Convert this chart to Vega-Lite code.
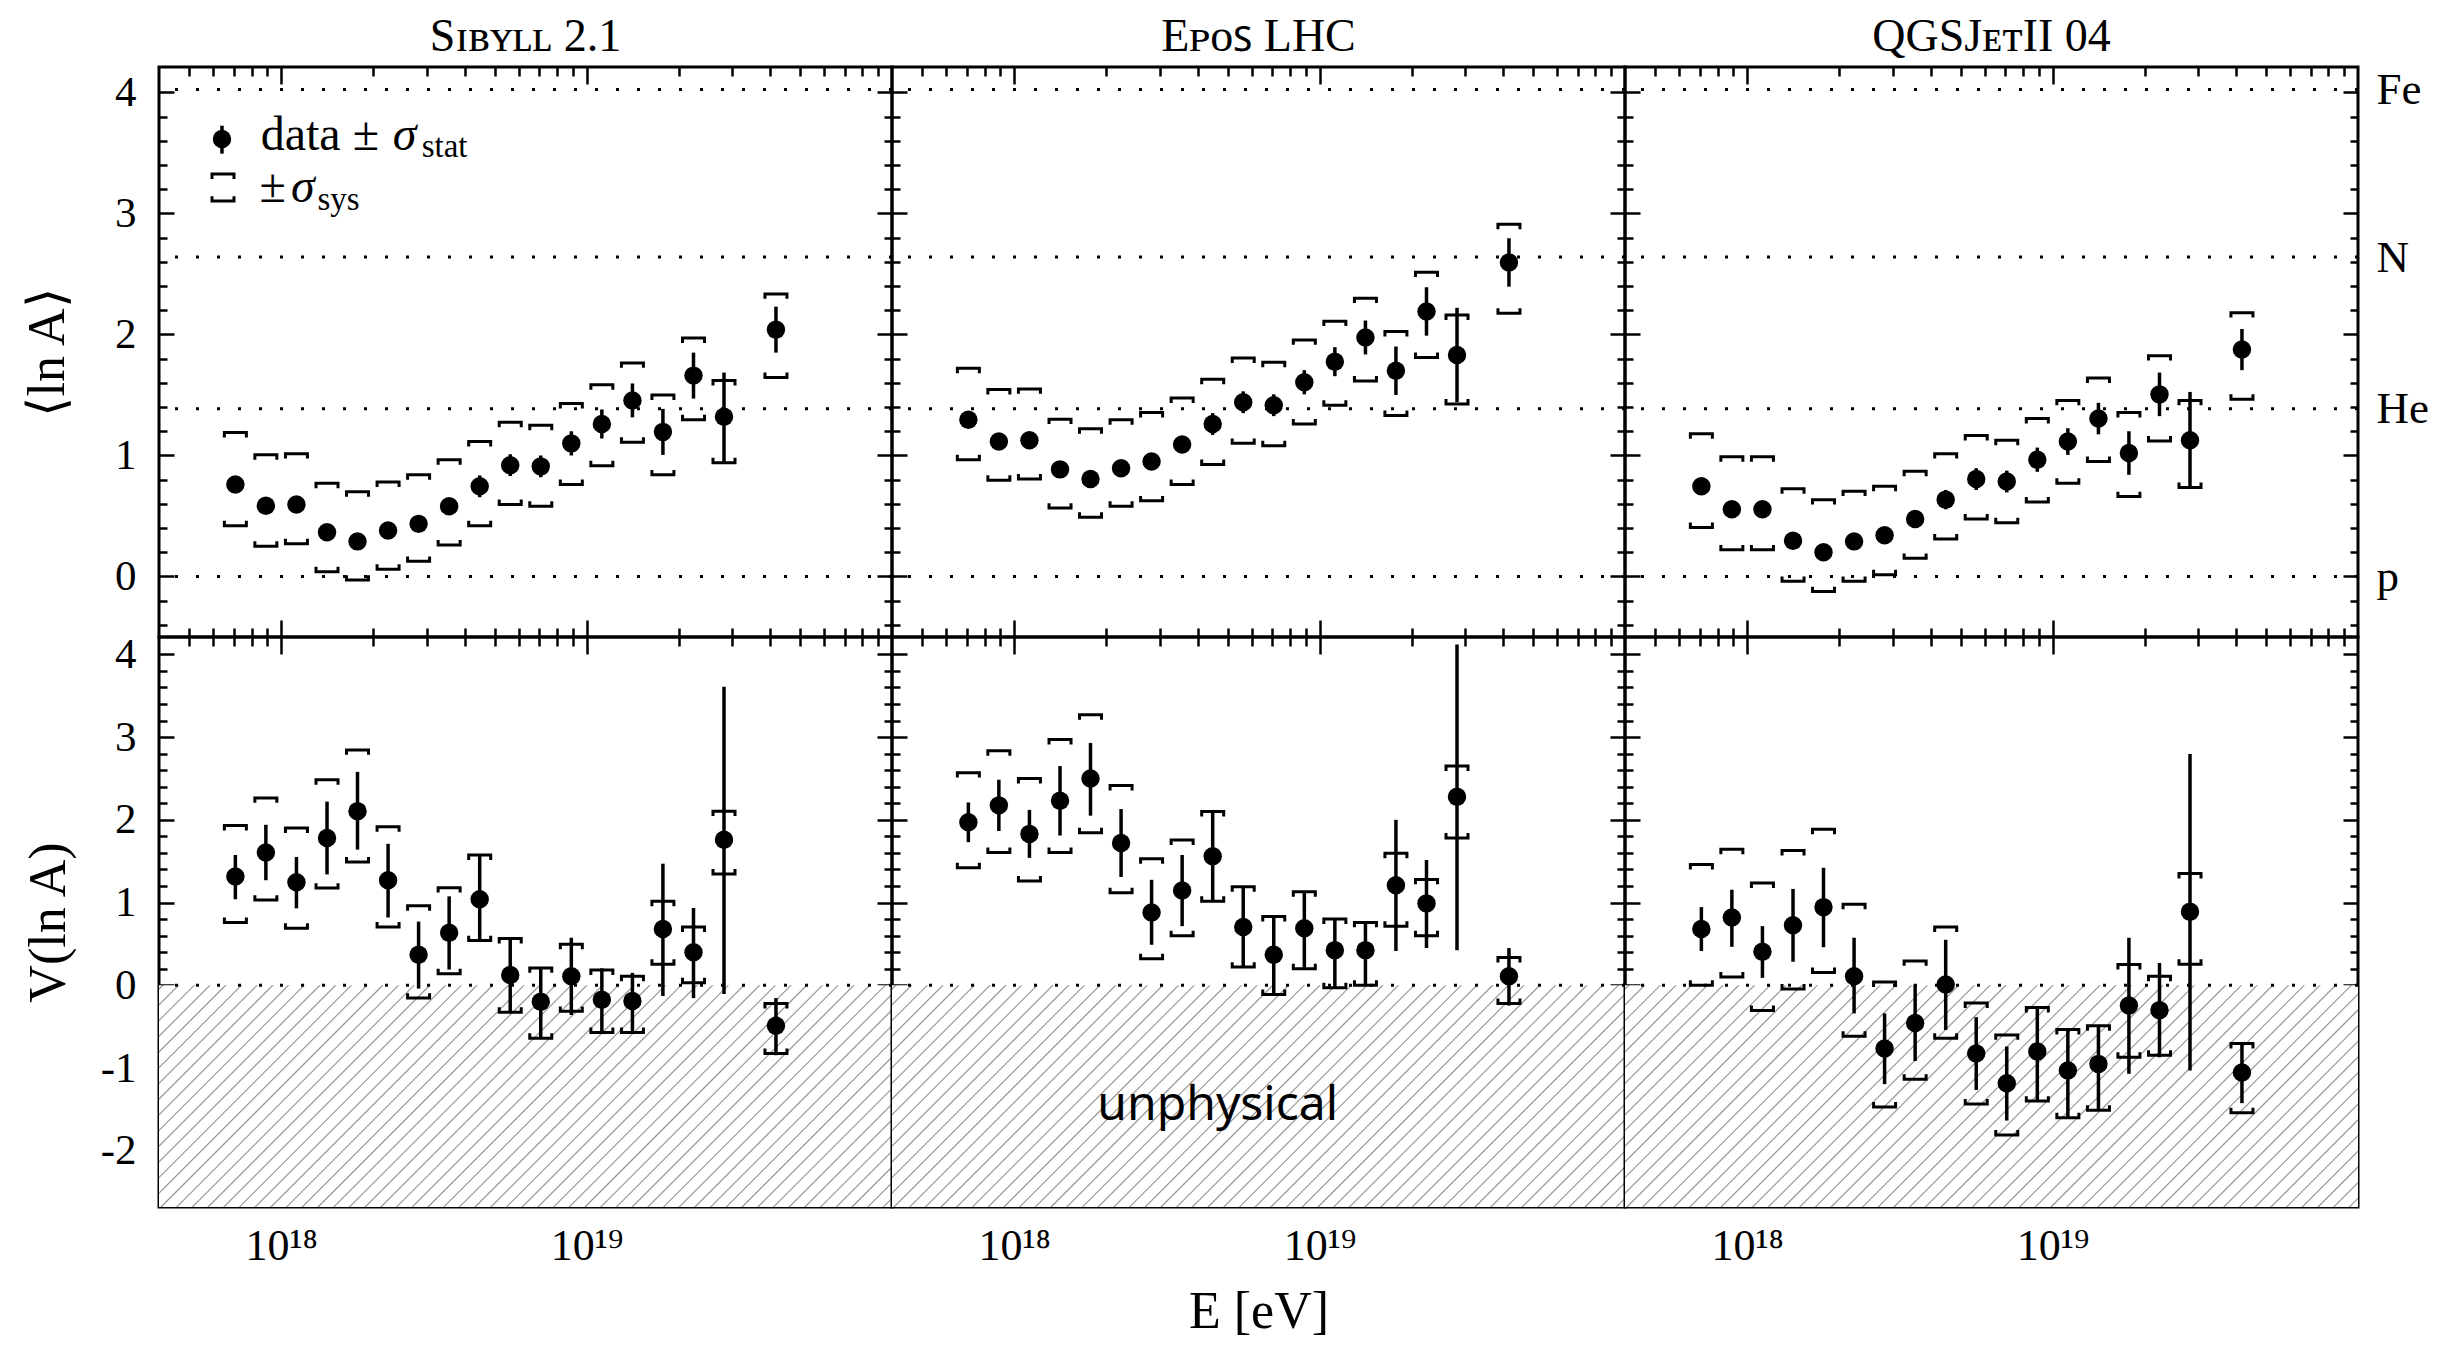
{
  "$schema": "https://vega.github.io/schema/vega-lite/v6.json",
  "background": "white",
  "padding": {"left": 20, "top": 12, "right": 10, "bottom": 4},
  "config": {
    "view": {"stroke": "black", "strokeWidth": 3},
    "font": "Liberation Serif",
    "axis": {
      "grid": false, "domain": false, "tickColor": "black", "tickWidth": 2.5,
      "labelColor": "black", "labelFont": "Liberation Serif", "labelFontSize": 43,
      "titleColor": "black", "titleFont": "Liberation Serif", "titleFontSize": 52, "titleFontWeight": "normal",
      "labelOverlap": false, "labelFlush": false, "labelBound": false, "minExtent": 0, "maxExtent": 400
    }
  },
  "datasets": {
    "lnA": [
      {"model":"Sibyll","E":7.08e17,"mean":0.76,"statLo":0.73,"statHi":0.79,"sysLo":0.42,"sysHi":1.19},
      {"model":"Sibyll","E":8.91e17,"mean":0.585,"statLo":0.555,"statHi":0.615,"sysLo":0.25,"sysHi":1.005},
      {"model":"Sibyll","E":1.122e18,"mean":0.595,"statLo":0.565,"statHi":0.625,"sysLo":0.27,"sysHi":1.015},
      {"model":"Sibyll","E":1.413e18,"mean":0.365,"statLo":0.335,"statHi":0.395,"sysLo":0.04,"sysHi":0.77},
      {"model":"Sibyll","E":1.778e18,"mean":0.29,"statLo":0.25,"statHi":0.33,"sysLo":-0.03,"sysHi":0.7},
      {"model":"Sibyll","E":2.239e18,"mean":0.38,"statLo":0.34,"statHi":0.42,"sysLo":0.06,"sysHi":0.78},
      {"model":"Sibyll","E":2.818e18,"mean":0.435,"statLo":0.385,"statHi":0.485,"sysLo":0.125,"sysHi":0.84},
      {"model":"Sibyll","E":3.548e18,"mean":0.58,"statLo":0.52,"statHi":0.64,"sysLo":0.26,"sysHi":0.965},
      {"model":"Sibyll","E":4.467e18,"mean":0.745,"statLo":0.655,"statHi":0.835,"sysLo":0.42,"sysHi":1.115},
      {"model":"Sibyll","E":5.623e18,"mean":0.92,"statLo":0.83,"statHi":1.01,"sysLo":0.595,"sysHi":1.275},
      {"model":"Sibyll","E":7.079e18,"mean":0.91,"statLo":0.82,"statHi":1.0,"sysLo":0.58,"sysHi":1.25},
      {"model":"Sibyll","E":8.913e18,"mean":1.1,"statLo":1.0,"statHi":1.2,"sysLo":0.76,"sysHi":1.43},
      {"model":"Sibyll","E":1.122e19,"mean":1.26,"statLo":1.14,"statHi":1.38,"sysLo":0.915,"sysHi":1.585},
      {"model":"Sibyll","E":1.413e19,"mean":1.455,"statLo":1.315,"statHi":1.595,"sysLo":1.11,"sysHi":1.765},
      {"model":"Sibyll","E":1.778e19,"mean":1.195,"statLo":1.005,"statHi":1.385,"sysLo":0.84,"sysHi":1.5},
      {"model":"Sibyll","E":2.239e19,"mean":1.66,"statLo":1.47,"statHi":1.85,"sysLo":1.295,"sysHi":1.97},
      {"model":"Sibyll","E":2.818e19,"mean":1.32,"statLo":0.935,"statHi":1.685,"sysLo":0.94,"sysHi":1.62},
      {"model":"Sibyll","E":4.169e19,"mean":2.04,"statLo":1.85,"statHi":2.23,"sysLo":1.645,"sysHi":2.335},
      {"model":"EPOS","E":7.08e17,"mean":1.295,"statLo":1.265,"statHi":1.325,"sysLo":0.965,"sysHi":1.72},
      {"model":"EPOS","E":8.91e17,"mean":1.115,"statLo":1.085,"statHi":1.145,"sysLo":0.795,"sysHi":1.545},
      {"model":"EPOS","E":1.122e18,"mean":1.125,"statLo":1.095,"statHi":1.155,"sysLo":0.805,"sysHi":1.55},
      {"model":"EPOS","E":1.413e18,"mean":0.885,"statLo":0.855,"statHi":0.915,"sysLo":0.565,"sysHi":1.3},
      {"model":"EPOS","E":1.778e18,"mean":0.805,"statLo":0.765,"statHi":0.845,"sysLo":0.49,"sysHi":1.22},
      {"model":"EPOS","E":2.239e18,"mean":0.895,"statLo":0.855,"statHi":0.935,"sysLo":0.58,"sysHi":1.295},
      {"model":"EPOS","E":2.818e18,"mean":0.95,"statLo":0.9,"statHi":1.0,"sysLo":0.625,"sysHi":1.355},
      {"model":"EPOS","E":3.548e18,"mean":1.09,"statLo":1.03,"statHi":1.15,"sysLo":0.76,"sysHi":1.475},
      {"model":"EPOS","E":4.467e18,"mean":1.26,"statLo":1.17,"statHi":1.35,"sysLo":0.925,"sysHi":1.63},
      {"model":"EPOS","E":5.623e18,"mean":1.44,"statLo":1.35,"statHi":1.53,"sysLo":1.1,"sysHi":1.805},
      {"model":"EPOS","E":7.079e18,"mean":1.415,"statLo":1.325,"statHi":1.505,"sysLo":1.08,"sysHi":1.77},
      {"model":"EPOS","E":8.913e18,"mean":1.605,"statLo":1.505,"statHi":1.705,"sysLo":1.26,"sysHi":1.955},
      {"model":"EPOS","E":1.122e19,"mean":1.775,"statLo":1.655,"statHi":1.895,"sysLo":1.415,"sysHi":2.11},
      {"model":"EPOS","E":1.413e19,"mean":1.975,"statLo":1.835,"statHi":2.115,"sysLo":1.615,"sysHi":2.3},
      {"model":"EPOS","E":1.778e19,"mean":1.7,"statLo":1.5,"statHi":1.9,"sysLo":1.33,"sysHi":2.025},
      {"model":"EPOS","E":2.239e19,"mean":2.19,"statLo":1.99,"statHi":2.39,"sysLo":1.81,"sysHi":2.515},
      {"model":"EPOS","E":2.818e19,"mean":1.83,"statLo":1.44,"statHi":2.22,"sysLo":1.425,"sysHi":2.16},
      {"model":"EPOS","E":4.169e19,"mean":2.595,"statLo":2.395,"statHi":2.795,"sysLo":2.175,"sysHi":2.91},
      {"model":"QGSJet","E":7.08e17,"mean":0.745,"statLo":0.715,"statHi":0.775,"sysLo":0.405,"sysHi":1.18},
      {"model":"QGSJet","E":8.91e17,"mean":0.555,"statLo":0.525,"statHi":0.585,"sysLo":0.22,"sysHi":0.99},
      {"model":"QGSJet","E":1.122e18,"mean":0.555,"statLo":0.525,"statHi":0.585,"sysLo":0.22,"sysHi":0.99},
      {"model":"QGSJet","E":1.413e18,"mean":0.295,"statLo":0.265,"statHi":0.325,"sysLo":-0.04,"sysHi":0.725},
      {"model":"QGSJet","E":1.778e18,"mean":0.2,"statLo":0.16,"statHi":0.24,"sysLo":-0.125,"sysHi":0.635},
      {"model":"QGSJet","E":2.239e18,"mean":0.29,"statLo":0.25,"statHi":0.33,"sysLo":-0.04,"sysHi":0.705},
      {"model":"QGSJet","E":2.818e18,"mean":0.34,"statLo":0.29,"statHi":0.39,"sysLo":0.015,"sysHi":0.745},
      {"model":"QGSJet","E":3.548e18,"mean":0.475,"statLo":0.415,"statHi":0.535,"sysLo":0.15,"sysHi":0.87},
      {"model":"QGSJet","E":4.467e18,"mean":0.635,"statLo":0.555,"statHi":0.715,"sysLo":0.31,"sysHi":1.015},
      {"model":"QGSJet","E":5.623e18,"mean":0.805,"statLo":0.715,"statHi":0.895,"sysLo":0.475,"sysHi":1.165},
      {"model":"QGSJet","E":7.079e18,"mean":0.785,"statLo":0.695,"statHi":0.875,"sysLo":0.445,"sysHi":1.125},
      {"model":"QGSJet","E":8.913e18,"mean":0.965,"statLo":0.865,"statHi":1.065,"sysLo":0.615,"sysHi":1.305},
      {"model":"QGSJet","E":1.122e19,"mean":1.115,"statLo":1.005,"statHi":1.225,"sysLo":0.77,"sysHi":1.455},
      {"model":"QGSJet","E":1.413e19,"mean":1.305,"statLo":1.175,"statHi":1.435,"sysLo":0.95,"sysHi":1.64},
      {"model":"QGSJet","E":1.778e19,"mean":1.02,"statLo":0.84,"statHi":1.2,"sysLo":0.66,"sysHi":1.355},
      {"model":"QGSJet","E":2.239e19,"mean":1.505,"statLo":1.325,"statHi":1.685,"sysLo":1.12,"sysHi":1.825},
      {"model":"QGSJet","E":2.818e19,"mean":1.125,"statLo":0.735,"statHi":1.525,"sysLo":0.735,"sysHi":1.455},
      {"model":"QGSJet","E":4.169e19,"mean":1.875,"statLo":1.705,"statHi":2.045,"sysLo":1.465,"sysHi":2.18}
    ],
    "VlnA": [
      {"model":"Sibyll","E":7.08e17,"mean":1.315,"statLo":1.04,"statHi":1.575,"sysLo":0.76,"sysHi":1.93},
      {"model":"Sibyll","E":8.91e17,"mean":1.605,"statLo":1.27,"statHi":1.94,"sysLo":1.03,"sysHi":2.265},
      {"model":"Sibyll","E":1.122e18,"mean":1.245,"statLo":0.93,"statHi":1.55,"sysLo":0.69,"sysHi":1.9},
      {"model":"Sibyll","E":1.413e18,"mean":1.78,"statLo":1.34,"statHi":2.22,"sysLo":1.175,"sysHi":2.485},
      {"model":"Sibyll","E":1.778e18,"mean":2.105,"statLo":1.64,"statHi":2.58,"sysLo":1.49,"sysHi":2.845},
      {"model":"Sibyll","E":2.239e18,"mean":1.27,"statLo":0.82,"statHi":1.71,"sysLo":0.705,"sysHi":1.915},
      {"model":"Sibyll","E":2.818e18,"mean":0.37,"statLo":-0.04,"statHi":0.77,"sysLo":-0.155,"sysHi":0.96},
      {"model":"Sibyll","E":3.548e18,"mean":0.635,"statLo":0.19,"statHi":1.075,"sysLo":0.14,"sysHi":1.18},
      {"model":"Sibyll","E":4.467e18,"mean":1.04,"statLo":0.54,"statHi":1.575,"sysLo":0.54,"sysHi":1.575},
      {"model":"Sibyll","E":5.623e18,"mean":0.125,"statLo":-0.325,"statHi":0.565,"sysLo":-0.325,"sysHi":0.565},
      {"model":"Sibyll","E":7.079e18,"mean":-0.2,"statLo":-0.64,"statHi":0.21,"sysLo":-0.64,"sysHi":0.21},
      {"model":"Sibyll","E":8.913e18,"mean":0.11,"statLo":-0.36,"statHi":0.575,"sysLo":-0.315,"sysHi":0.495},
      {"model":"Sibyll","E":1.122e19,"mean":-0.175,"statLo":-0.57,"statHi":0.205,"sysLo":-0.57,"sysHi":0.185},
      {"model":"Sibyll","E":1.413e19,"mean":-0.19,"statLo":-0.57,"statHi":0.15,"sysLo":-0.57,"sysHi":0.11},
      {"model":"Sibyll","E":1.778e19,"mean":0.68,"statLo":-0.13,"statHi":1.47,"sysLo":0.255,"sysHi":1.015},
      {"model":"Sibyll","E":2.239e19,"mean":0.4,"statLo":-0.155,"statHi":0.935,"sysLo":0.03,"sysHi":0.705},
      {"model":"Sibyll","E":2.818e19,"mean":1.76,"statLo":-0.105,"statHi":3.61,"sysLo":1.345,"sysHi":2.105},
      {"model":"Sibyll","E":4.169e19,"mean":-0.49,"statLo":-0.845,"statHi":-0.155,"sysLo":-0.825,"sysHi":-0.22},
      {"model":"EPOS","E":7.08e17,"mean":1.97,"statLo":1.73,"statHi":2.21,"sysLo":1.42,"sysHi":2.57},
      {"model":"EPOS","E":8.91e17,"mean":2.175,"statLo":1.865,"statHi":2.485,"sysLo":1.605,"sysHi":2.835},
      {"model":"EPOS","E":1.122e18,"mean":1.83,"statLo":1.54,"statHi":2.12,"sysLo":1.26,"sysHi":2.5},
      {"model":"EPOS","E":1.413e18,"mean":2.23,"statLo":1.81,"statHi":2.65,"sysLo":1.605,"sysHi":2.97},
      {"model":"EPOS","E":1.778e18,"mean":2.5,"statLo":2.05,"statHi":2.93,"sysLo":1.845,"sysHi":3.27},
      {"model":"EPOS","E":2.239e18,"mean":1.72,"statLo":1.31,"statHi":2.13,"sysLo":1.12,"sysHi":2.415},
      {"model":"EPOS","E":2.818e18,"mean":0.88,"statLo":0.49,"statHi":1.275,"sysLo":0.32,"sysHi":1.53},
      {"model":"EPOS","E":3.548e18,"mean":1.145,"statLo":0.715,"statHi":1.575,"sysLo":0.6,"sysHi":1.755},
      {"model":"EPOS","E":4.467e18,"mean":1.56,"statLo":1.015,"statHi":2.1,"sysLo":1.015,"sysHi":2.1},
      {"model":"EPOS","E":5.623e18,"mean":0.705,"statLo":0.22,"statHi":1.19,"sysLo":0.22,"sysHi":1.19},
      {"model":"EPOS","E":7.079e18,"mean":0.37,"statLo":-0.12,"statHi":0.83,"sysLo":-0.11,"sysHi":0.83},
      {"model":"EPOS","E":8.913e18,"mean":0.69,"statLo":0.2,"statHi":1.13,"sysLo":0.2,"sysHi":1.13},
      {"model":"EPOS","E":1.122e19,"mean":0.425,"statLo":-0.03,"statHi":0.8,"sysLo":-0.03,"sysHi":0.8},
      {"model":"EPOS","E":1.413e19,"mean":0.425,"statLo":0.0,"statHi":0.76,"sysLo":0.0,"sysHi":0.76},
      {"model":"EPOS","E":1.778e19,"mean":1.21,"statLo":0.415,"statHi":2.0,"sysLo":0.715,"sysHi":1.595},
      {"model":"EPOS","E":2.239e19,"mean":0.99,"statLo":0.45,"statHi":1.515,"sysLo":0.6,"sysHi":1.28},
      {"model":"EPOS","E":2.818e19,"mean":2.28,"statLo":0.425,"statHi":4.12,"sysLo":1.78,"sysHi":2.65},
      {"model":"EPOS","E":4.169e19,"mean":0.11,"statLo":-0.245,"statHi":0.45,"sysLo":-0.22,"sysHi":0.335},
      {"model":"QGSJet","E":7.08e17,"mean":0.68,"statLo":0.415,"statHi":0.945,"sysLo":0.0,"sysHi":1.46},
      {"model":"QGSJet","E":8.91e17,"mean":0.82,"statLo":0.465,"statHi":1.155,"sysLo":0.1,"sysHi":1.645},
      {"model":"QGSJet","E":1.122e18,"mean":0.405,"statLo":0.09,"statHi":0.715,"sysLo":-0.305,"sysHi":1.235},
      {"model":"QGSJet","E":1.413e18,"mean":0.725,"statLo":0.285,"statHi":1.165,"sysLo":-0.045,"sysHi":1.63},
      {"model":"QGSJet","E":1.778e18,"mean":0.945,"statLo":0.46,"statHi":1.42,"sysLo":0.155,"sysHi":1.885},
      {"model":"QGSJet","E":2.239e18,"mean":0.11,"statLo":-0.34,"statHi":0.575,"sysLo":-0.615,"sysHi":0.98},
      {"model":"QGSJet","E":2.818e18,"mean":-0.765,"statLo":-1.195,"statHi":-0.34,"sysLo":-1.47,"sysHi":0.04},
      {"model":"QGSJet","E":3.548e18,"mean":-0.455,"statLo":-0.915,"statHi":0.01,"sysLo":-1.135,"sysHi":0.295},
      {"model":"QGSJet","E":4.467e18,"mean":0.01,"statLo":-0.54,"statHi":0.55,"sysLo":-0.64,"sysHi":0.705},
      {"model":"QGSJet","E":5.623e18,"mean":-0.825,"statLo":-1.265,"statHi":-0.385,"sysLo":-1.435,"sysHi":-0.215},
      {"model":"QGSJet","E":7.079e18,"mean":-1.185,"statLo":-1.635,"statHi":-0.74,"sysLo":-1.81,"sysHi":-0.6},
      {"model":"QGSJet","E":8.913e18,"mean":-0.8,"statLo":-1.4,"statHi":-0.27,"sysLo":-1.4,"sysHi":-0.27},
      {"model":"QGSJet","E":1.122e19,"mean":-1.03,"statLo":-1.6,"statHi":-0.54,"sysLo":-1.6,"sysHi":-0.535},
      {"model":"QGSJet","E":1.413e19,"mean":-0.95,"statLo":-1.5,"statHi":-0.49,"sysLo":-1.51,"sysHi":-0.49},
      {"model":"QGSJet","E":1.778e19,"mean":-0.245,"statLo":-1.07,"statHi":0.575,"sysLo":-0.87,"sysHi":0.25},
      {"model":"QGSJet","E":2.239e19,"mean":-0.3,"statLo":-0.87,"statHi":0.27,"sysLo":-0.845,"sysHi":0.11},
      {"model":"QGSJet","E":2.818e19,"mean":0.89,"statLo":-1.03,"statHi":2.795,"sysLo":0.255,"sysHi":1.35},
      {"model":"QGSJet","E":4.169e19,"mean":-1.055,"statLo":-1.425,"statHi":-0.69,"sysLo":-1.54,"sysHi":-0.705}
    ],
    "elements": [
      {"element":"p","lnA":0},
      {"element":"He","lnA":1.386},
      {"element":"N","lnA":2.639},
      {"element":"Fe","lnA":4.025}
    ],
    "zeroLine": [{"V":0}],
    "blank": [{}]
  },
  "columns": 3,
  "spacing": 0,
  "bounds": "flush",
  "concat": [
    {
      "width": 733, "height": 570,
      "title": {"text": "S\u026a\u0299\u028f\u029f\u029f 2.1", "font": "Liberation Serif", "fontSize": 46, "fontWeight": "normal", "color": "black", "frame": "group", "anchor": "middle", "baseline": "alphabetic", "offset": -31},
      "resolve": {"axis": {"x": "independent", "y": "independent"}},
      "layer": [
        {"data": {"name": "elements"}, "mark": {"type": "rule", "color": "black", "strokeWidth": 3, "strokeDash": [3, 18]},
         "encoding": {"y": {"field": "lnA", "type": "quantitative", "scale": {"domain": [-0.5, 4.21], "nice": false, "zero": false}, "axis": null}}},
        {"data": {"name": "lnA"}, "transform": [{"filter": "datum.model === 'Sibyll'"}],
         "mark": {"type": "point", "shape": "M-1,0.45L-1,0L1,0L1,0.45", "size": 484, "filled": false, "color": "black", "strokeWidth": 3, "opacity": 1},
         "encoding": {
           "x": {"field": "E", "type": "quantitative", "scale": {"type": "log", "domain": [3.981e17, 1e20], "nice": false}, "axis": {"orient": "bottom", "values": [1e18, 1e19], "tickSize": -17, "labels": false, "title": null}},
           "y": {"field": "sysHi", "type": "quantitative", "scale": {"domain": [-0.5, 4.21], "nice": false, "zero": false}, "axis": {"orient": "left", "values": [0, 1, 2, 3, 4], "tickSize": -15, "labelPadding": 38, "title": "\u27e8ln A\u27e9", "titlePadding": 40}}}},
        {"data": {"name": "lnA"}, "transform": [{"filter": "datum.model === 'Sibyll'"}],
         "mark": {"type": "point", "shape": "M-1,-0.45L-1,0L1,0L1,-0.45", "size": 484, "filled": false, "color": "black", "strokeWidth": 3, "opacity": 1},
         "encoding": {
           "x": {"field": "E", "type": "quantitative", "axis": {"orient": "bottom", "values": [5e17,6e17,7e17,8e17,9e17,2e18,3e18,4e18,5e18,6e18,7e18,8e18,9e18,2e19,3e19,4e19,5e19,6e19,7e19,8e19,9e19], "tickSize": -9, "labels": false, "title": null}},
           "y": {"field": "sysLo", "type": "quantitative", "axis": {"orient": "left", "values": [-0.4,-0.2,0.2,0.4,0.6,0.8,1.2,1.4,1.6,1.8,2.2,2.4,2.6,2.8,3.2,3.4,3.6,3.8], "tickSize": -8, "labels": false, "title": null}}}},
        {"data": {"name": "lnA"}, "transform": [{"filter": "datum.model === 'Sibyll'"}],
         "mark": {"type": "rule", "color": "black", "strokeWidth": 3.5},
         "encoding": {
           "x": {"field": "E", "type": "quantitative", "axis": {"orient": "top", "values": [1e18, 1e19], "tickSize": -17, "labels": false, "title": null}},
           "y": {"field": "statLo", "type": "quantitative", "axis": {"orient": "right", "values": [0, 1, 2, 3, 4], "tickSize": -15, "labels": false, "title": null}},
           "y2": {"field": "statHi"}}},
        {"data": {"name": "lnA"}, "transform": [{"filter": "datum.model === 'Sibyll'"}],
         "mark": {"type": "point", "shape": "circle", "size": 340, "filled": true, "color": "black", "opacity": 1},
         "encoding": {
           "x": {"field": "E", "type": "quantitative", "axis": {"orient": "top", "values": [5e17,6e17,7e17,8e17,9e17,2e18,3e18,4e18,5e18,6e18,7e18,8e18,9e18,2e19,3e19,4e19,5e19,6e19,7e19,8e19,9e19], "tickSize": -9, "labels": false, "title": null}},
           "y": {"field": "mean", "type": "quantitative", "axis": {"orient": "right", "values": [-0.4,-0.2,0.2,0.4,0.6,0.8,1.2,1.4,1.6,1.8,2.2,2.4,2.6,2.8,3.2,3.4,3.6,3.8], "tickSize": -8, "labels": false, "title": null}}}},
        {"data": {"name": "blank"}, "mark": {"type": "rule", "color": "black", "strokeWidth": 3.5},
         "encoding": {"x": {"datum": 6.4e17, "type": "quantitative", "axis": null}, "y": {"datum": 3.494, "type": "quantitative", "axis": null}, "y2": {"datum": 3.725}}},
        {"data": {"name": "blank"}, "mark": {"type": "point", "shape": "circle", "size": 340, "filled": true, "color": "black", "opacity": 1},
         "encoding": {"x": {"datum": 6.4e17, "type": "quantitative", "axis": null}, "y": {"datum": 3.615, "type": "quantitative", "axis": null}}},
        {"data": {"name": "blank"}, "mark": {"type": "point", "shape": "M-1,0.45L-1,0L1,0L1,0.45", "size": 484, "filled": false, "color": "black", "strokeWidth": 3, "opacity": 1},
         "encoding": {"x": {"datum": 6.45e17, "type": "quantitative", "axis": null}, "y": {"datum": 3.326, "type": "quantitative", "axis": null}}},
        {"data": {"name": "blank"}, "mark": {"type": "point", "shape": "M-1,-0.45L-1,0L1,0L1,-0.45", "size": 484, "filled": false, "color": "black", "strokeWidth": 3, "opacity": 1},
         "encoding": {"x": {"datum": 6.45e17, "type": "quantitative", "axis": null}, "y": {"datum": 3.102, "type": "quantitative", "axis": null}}},
        {"data": {"name": "blank"}, "mark": {"type": "text", "text": "data \u00b1", "align": "left", "baseline": "alphabetic", "font": "Liberation Serif", "fontSize": 48, "color": "black"},
         "encoding": {"x": {"datum": 8.57e17, "type": "quantitative", "axis": null}, "y": {"datum": 3.527, "type": "quantitative", "axis": null}}},
        {"data": {"name": "blank"}, "mark": {"type": "text", "text": "\u03c3", "align": "left", "baseline": "alphabetic", "font": "Liberation Serif", "fontStyle": "italic", "fontSize": 48, "color": "black"},
         "encoding": {"x": {"datum": 2.32e18, "type": "quantitative", "axis": null}, "y": {"datum": 3.527, "type": "quantitative", "axis": null}}},
        {"data": {"name": "blank"}, "mark": {"type": "text", "text": "stat", "align": "left", "baseline": "alphabetic", "font": "Liberation Serif", "fontSize": 33, "color": "black"},
         "encoding": {"x": {"datum": 2.884e18, "type": "quantitative", "axis": null}, "y": {"datum": 3.463, "type": "quantitative", "axis": null}}},
        {"data": {"name": "blank"}, "mark": {"type": "text", "text": "\u00b1", "align": "left", "baseline": "alphabetic", "font": "Liberation Serif", "fontSize": 48, "color": "black"},
         "encoding": {"x": {"datum": 8.5e17, "type": "quantitative", "axis": null}, "y": {"datum": 3.093, "type": "quantitative", "axis": null}}},
        {"data": {"name": "blank"}, "mark": {"type": "text", "text": "\u03c3", "align": "left", "baseline": "alphabetic", "font": "Liberation Serif", "fontStyle": "italic", "fontSize": 48, "color": "black"},
         "encoding": {"x": {"datum": 1.076e18, "type": "quantitative", "axis": null}, "y": {"datum": 3.093, "type": "quantitative", "axis": null}}},
        {"data": {"name": "blank"}, "mark": {"type": "text", "text": "sys", "align": "left", "baseline": "alphabetic", "font": "Liberation Serif", "fontSize": 33, "color": "black"},
         "encoding": {"x": {"datum": 1.315e18, "type": "quantitative", "axis": null}, "y": {"datum": 3.03, "type": "quantitative", "axis": null}}}
      ]
    },
    {
      "width": 733, "height": 570,
      "title": {"text": "E\u1d18\u1d0f\ua731 LHC", "font": "Liberation Serif", "fontSize": 46, "fontWeight": "normal", "color": "black", "frame": "group", "anchor": "middle", "baseline": "alphabetic", "offset": -31},
      "resolve": {"axis": {"x": "independent", "y": "independent"}},
      "layer": [
        {"data": {"name": "elements"}, "mark": {"type": "rule", "color": "black", "strokeWidth": 3, "strokeDash": [3, 18]},
         "encoding": {"y": {"field": "lnA", "type": "quantitative", "scale": {"domain": [-0.5, 4.21], "nice": false, "zero": false}, "axis": null}}},
        {"data": {"name": "lnA"}, "transform": [{"filter": "datum.model === 'EPOS'"}],
         "mark": {"type": "point", "shape": "M-1,0.45L-1,0L1,0L1,0.45", "size": 484, "filled": false, "color": "black", "strokeWidth": 3, "opacity": 1},
         "encoding": {
           "x": {"field": "E", "type": "quantitative", "scale": {"type": "log", "domain": [3.981e17, 1e20], "nice": false}, "axis": {"orient": "bottom", "values": [1e18, 1e19], "tickSize": -17, "labels": false, "title": null}},
           "y": {"field": "sysHi", "type": "quantitative", "scale": {"domain": [-0.5, 4.21], "nice": false, "zero": false}, "axis": {"orient": "left", "values": [0, 1, 2, 3, 4], "tickSize": -15, "labels": false, "title": null}}}},
        {"data": {"name": "lnA"}, "transform": [{"filter": "datum.model === 'EPOS'"}],
         "mark": {"type": "point", "shape": "M-1,-0.45L-1,0L1,0L1,-0.45", "size": 484, "filled": false, "color": "black", "strokeWidth": 3, "opacity": 1},
         "encoding": {
           "x": {"field": "E", "type": "quantitative", "axis": {"orient": "bottom", "values": [5e17,6e17,7e17,8e17,9e17,2e18,3e18,4e18,5e18,6e18,7e18,8e18,9e18,2e19,3e19,4e19,5e19,6e19,7e19,8e19,9e19], "tickSize": -9, "labels": false, "title": null}},
           "y": {"field": "sysLo", "type": "quantitative", "axis": {"orient": "left", "values": [-0.4,-0.2,0.2,0.4,0.6,0.8,1.2,1.4,1.6,1.8,2.2,2.4,2.6,2.8,3.2,3.4,3.6,3.8], "tickSize": -8, "labels": false, "title": null}}}},
        {"data": {"name": "lnA"}, "transform": [{"filter": "datum.model === 'EPOS'"}],
         "mark": {"type": "rule", "color": "black", "strokeWidth": 3.5},
         "encoding": {
           "x": {"field": "E", "type": "quantitative", "axis": {"orient": "top", "values": [1e18, 1e19], "tickSize": -17, "labels": false, "title": null}},
           "y": {"field": "statLo", "type": "quantitative", "axis": {"orient": "right", "values": [0, 1, 2, 3, 4], "tickSize": -15, "labels": false, "title": null}},
           "y2": {"field": "statHi"}}},
        {"data": {"name": "lnA"}, "transform": [{"filter": "datum.model === 'EPOS'"}],
         "mark": {"type": "point", "shape": "circle", "size": 340, "filled": true, "color": "black", "opacity": 1},
         "encoding": {
           "x": {"field": "E", "type": "quantitative", "axis": {"orient": "top", "values": [5e17,6e17,7e17,8e17,9e17,2e18,3e18,4e18,5e18,6e18,7e18,8e18,9e18,2e19,3e19,4e19,5e19,6e19,7e19,8e19,9e19], "tickSize": -9, "labels": false, "title": null}},
           "y": {"field": "mean", "type": "quantitative", "axis": {"orient": "right", "values": [-0.4,-0.2,0.2,0.4,0.6,0.8,1.2,1.4,1.6,1.8,2.2,2.4,2.6,2.8,3.2,3.4,3.6,3.8], "tickSize": -8, "labels": false, "title": null}}}}
      ]
    },
    {
      "width": 733, "height": 570,
      "title": {"text": "QGSJ\u1d07\u1d1bII 04", "font": "Liberation Serif", "fontSize": 46, "fontWeight": "normal", "color": "black", "frame": "group", "anchor": "middle", "baseline": "alphabetic", "offset": -31},
      "resolve": {"axis": {"x": "independent", "y": "independent"}},
      "layer": [
        {"data": {"name": "elements"}, "mark": {"type": "rule", "color": "black", "strokeWidth": 3, "strokeDash": [3, 18]},
         "encoding": {"y": {"field": "lnA", "type": "quantitative", "scale": {"domain": [-0.5, 4.21], "nice": false, "zero": false},
           "axis": {"orient": "right", "values": [0, 1.386, 2.639, 4.025], "ticks": false, "labelPadding": 18, "labelFontSize": 45, "labelExpr": "datum.value > 4 ? 'Fe' : datum.value > 2 ? 'N' : datum.value > 1 ? 'He' : 'p'", "title": null}}}},
        {"data": {"name": "lnA"}, "transform": [{"filter": "datum.model === 'QGSJet'"}],
         "mark": {"type": "point", "shape": "M-1,0.45L-1,0L1,0L1,0.45", "size": 484, "filled": false, "color": "black", "strokeWidth": 3, "opacity": 1},
         "encoding": {
           "x": {"field": "E", "type": "quantitative", "scale": {"type": "log", "domain": [3.981e17, 1e20], "nice": false}, "axis": {"orient": "bottom", "values": [1e18, 1e19], "tickSize": -17, "labels": false, "title": null}},
           "y": {"field": "sysHi", "type": "quantitative", "scale": {"domain": [-0.5, 4.21], "nice": false, "zero": false}, "axis": {"orient": "left", "values": [0, 1, 2, 3, 4], "tickSize": -15, "labels": false, "title": null}}}},
        {"data": {"name": "lnA"}, "transform": [{"filter": "datum.model === 'QGSJet'"}],
         "mark": {"type": "point", "shape": "M-1,-0.45L-1,0L1,0L1,-0.45", "size": 484, "filled": false, "color": "black", "strokeWidth": 3, "opacity": 1},
         "encoding": {
           "x": {"field": "E", "type": "quantitative", "axis": {"orient": "bottom", "values": [5e17,6e17,7e17,8e17,9e17,2e18,3e18,4e18,5e18,6e18,7e18,8e18,9e18,2e19,3e19,4e19,5e19,6e19,7e19,8e19,9e19], "tickSize": -9, "labels": false, "title": null}},
           "y": {"field": "sysLo", "type": "quantitative", "axis": {"orient": "left", "values": [-0.4,-0.2,0.2,0.4,0.6,0.8,1.2,1.4,1.6,1.8,2.2,2.4,2.6,2.8,3.2,3.4,3.6,3.8], "tickSize": -8, "labels": false, "title": null}}}},
        {"data": {"name": "lnA"}, "transform": [{"filter": "datum.model === 'QGSJet'"}],
         "mark": {"type": "rule", "color": "black", "strokeWidth": 3.5},
         "encoding": {
           "x": {"field": "E", "type": "quantitative", "axis": {"orient": "top", "values": [1e18, 1e19], "tickSize": -17, "labels": false, "title": null}},
           "y": {"field": "statLo", "type": "quantitative", "axis": {"orient": "right", "values": [0, 1, 2, 3, 4], "tickSize": -15, "labels": false, "title": null}},
           "y2": {"field": "statHi"}}},
        {"data": {"name": "lnA"}, "transform": [{"filter": "datum.model === 'QGSJet'"}],
         "mark": {"type": "point", "shape": "circle", "size": 340, "filled": true, "color": "black", "opacity": 1},
         "encoding": {
           "x": {"field": "E", "type": "quantitative", "axis": {"orient": "top", "values": [5e17,6e17,7e17,8e17,9e17,2e18,3e18,4e18,5e18,6e18,7e18,8e18,9e18,2e19,3e19,4e19,5e19,6e19,7e19,8e19,9e19], "tickSize": -9, "labels": false, "title": null}},
           "y": {"field": "mean", "type": "quantitative", "axis": {"orient": "right", "values": [-0.4,-0.2,0.2,0.4,0.6,0.8,1.2,1.4,1.6,1.8,2.2,2.4,2.6,2.8,3.2,3.4,3.6,3.8], "tickSize": -8, "labels": false, "title": null}}}}
      ]
    },
    {
      "width": 733, "height": 570,
      "resolve": {"axis": {"x": "independent", "y": "independent"}},
      "layer": [
        {"data": {"name": "blank"},
         "mark": {"type": "rect", "fill": {"gradient": "linear", "x1": 0, "y1": 0, "x2": 1.1933, "y2": 0.361, "stops": [
           {"offset":0.0024,"color":"white"},{"offset":0.004,"color":"#8c8c8c"},{"offset":0.0056,"color":"white"},
           {"offset":0.01885,"color":"white"},{"offset":0.02045,"color":"#8c8c8c"},{"offset":0.02205,"color":"white"},
           {"offset":0.0353,"color":"white"},{"offset":0.0369,"color":"#8c8c8c"},{"offset":0.0385,"color":"white"},
           {"offset":0.05175,"color":"white"},{"offset":0.05335,"color":"#8c8c8c"},{"offset":0.05495,"color":"white"},
           {"offset":0.0682,"color":"white"},{"offset":0.0698,"color":"#8c8c8c"},{"offset":0.0714,"color":"white"},
           {"offset":0.08465,"color":"white"},{"offset":0.08625,"color":"#8c8c8c"},{"offset":0.08785,"color":"white"},
           {"offset":0.1011,"color":"white"},{"offset":0.1027,"color":"#8c8c8c"},{"offset":0.1043,"color":"white"},
           {"offset":0.11755,"color":"white"},{"offset":0.11915,"color":"#8c8c8c"},{"offset":0.12075,"color":"white"},
           {"offset":0.134,"color":"white"},{"offset":0.1356,"color":"#8c8c8c"},{"offset":0.1372,"color":"white"},
           {"offset":0.15045,"color":"white"},{"offset":0.15205,"color":"#8c8c8c"},{"offset":0.15365,"color":"white"},
           {"offset":0.1669,"color":"white"},{"offset":0.1685,"color":"#8c8c8c"},{"offset":0.1701,"color":"white"},
           {"offset":0.18335,"color":"white"},{"offset":0.18495,"color":"#8c8c8c"},{"offset":0.18655,"color":"white"},
           {"offset":0.1998,"color":"white"},{"offset":0.2014,"color":"#8c8c8c"},{"offset":0.203,"color":"white"},
           {"offset":0.21625,"color":"white"},{"offset":0.21785,"color":"#8c8c8c"},{"offset":0.21945,"color":"white"},
           {"offset":0.2327,"color":"white"},{"offset":0.2343,"color":"#8c8c8c"},{"offset":0.2359,"color":"white"},
           {"offset":0.24915,"color":"white"},{"offset":0.25075,"color":"#8c8c8c"},{"offset":0.25235,"color":"white"},
           {"offset":0.2656,"color":"white"},{"offset":0.2672,"color":"#8c8c8c"},{"offset":0.2688,"color":"white"},
           {"offset":0.28205,"color":"white"},{"offset":0.28365,"color":"#8c8c8c"},{"offset":0.28525,"color":"white"},
           {"offset":0.2985,"color":"white"},{"offset":0.3001,"color":"#8c8c8c"},{"offset":0.3017,"color":"white"},
           {"offset":0.31495,"color":"white"},{"offset":0.31655,"color":"#8c8c8c"},{"offset":0.31815,"color":"white"},
           {"offset":0.3314,"color":"white"},{"offset":0.333,"color":"#8c8c8c"},{"offset":0.3346,"color":"white"},
           {"offset":0.34785,"color":"white"},{"offset":0.34945,"color":"#8c8c8c"},{"offset":0.35105,"color":"white"},
           {"offset":0.3643,"color":"white"},{"offset":0.3659,"color":"#8c8c8c"},{"offset":0.3675,"color":"white"},
           {"offset":0.38075,"color":"white"},{"offset":0.38235,"color":"#8c8c8c"},{"offset":0.38395,"color":"white"},
           {"offset":0.3972,"color":"white"},{"offset":0.3988,"color":"#8c8c8c"},{"offset":0.4004,"color":"white"},
           {"offset":0.41365,"color":"white"},{"offset":0.41525,"color":"#8c8c8c"},{"offset":0.41685,"color":"white"},
           {"offset":0.4301,"color":"white"},{"offset":0.4317,"color":"#8c8c8c"},{"offset":0.4333,"color":"white"},
           {"offset":0.44655,"color":"white"},{"offset":0.44815,"color":"#8c8c8c"},{"offset":0.44975,"color":"white"},
           {"offset":0.463,"color":"white"},{"offset":0.4646,"color":"#8c8c8c"},{"offset":0.4662,"color":"white"},
           {"offset":0.47945,"color":"white"},{"offset":0.48105,"color":"#8c8c8c"},{"offset":0.48265,"color":"white"},
           {"offset":0.4959,"color":"white"},{"offset":0.4975,"color":"#8c8c8c"},{"offset":0.4991,"color":"white"},
           {"offset":0.51235,"color":"white"},{"offset":0.51395,"color":"#8c8c8c"},{"offset":0.51555,"color":"white"},
           {"offset":0.5288,"color":"white"},{"offset":0.5304,"color":"#8c8c8c"},{"offset":0.532,"color":"white"},
           {"offset":0.54525,"color":"white"},{"offset":0.54685,"color":"#8c8c8c"},{"offset":0.54845,"color":"white"},
           {"offset":0.5617,"color":"white"},{"offset":0.5633,"color":"#8c8c8c"},{"offset":0.5649,"color":"white"},
           {"offset":0.57815,"color":"white"},{"offset":0.57975,"color":"#8c8c8c"},{"offset":0.58135,"color":"white"},
           {"offset":0.5946,"color":"white"},{"offset":0.5962,"color":"#8c8c8c"},{"offset":0.5978,"color":"white"},
           {"offset":0.61105,"color":"white"},{"offset":0.61265,"color":"#8c8c8c"},{"offset":0.61425,"color":"white"},
           {"offset":0.6275,"color":"white"},{"offset":0.6291,"color":"#8c8c8c"},{"offset":0.6307,"color":"white"},
           {"offset":0.64395,"color":"white"},{"offset":0.64555,"color":"#8c8c8c"},{"offset":0.64715,"color":"white"},
           {"offset":0.6604,"color":"white"},{"offset":0.662,"color":"#8c8c8c"},{"offset":0.6636,"color":"white"},
           {"offset":0.67685,"color":"white"},{"offset":0.67845,"color":"#8c8c8c"},{"offset":0.68005,"color":"white"},
           {"offset":0.6933,"color":"white"},{"offset":0.6949,"color":"#8c8c8c"},{"offset":0.6965,"color":"white"},
           {"offset":0.70975,"color":"white"},{"offset":0.71135,"color":"#8c8c8c"},{"offset":0.71295,"color":"white"},
           {"offset":0.7262,"color":"white"},{"offset":0.7278,"color":"#8c8c8c"},{"offset":0.7294,"color":"white"},
           {"offset":0.74265,"color":"white"},{"offset":0.74425,"color":"#8c8c8c"},{"offset":0.74585,"color":"white"},
           {"offset":0.7591,"color":"white"},{"offset":0.7607,"color":"#8c8c8c"},{"offset":0.7623,"color":"white"},
           {"offset":0.77555,"color":"white"},{"offset":0.77715,"color":"#8c8c8c"},{"offset":0.77875,"color":"white"},
           {"offset":0.792,"color":"white"},{"offset":0.7936,"color":"#8c8c8c"},{"offset":0.7952,"color":"white"},
           {"offset":0.80845,"color":"white"},{"offset":0.81005,"color":"#8c8c8c"},{"offset":0.81165,"color":"white"},
           {"offset":0.8249,"color":"white"},{"offset":0.8265,"color":"#8c8c8c"},{"offset":0.8281,"color":"white"},
           {"offset":0.84135,"color":"white"},{"offset":0.84295,"color":"#8c8c8c"},{"offset":0.84455,"color":"white"},
           {"offset":0.8578,"color":"white"},{"offset":0.8594,"color":"#8c8c8c"},{"offset":0.861,"color":"white"},
           {"offset":0.87425,"color":"white"},{"offset":0.87585,"color":"#8c8c8c"},{"offset":0.87745,"color":"white"},
           {"offset":0.8907,"color":"white"},{"offset":0.8923,"color":"#8c8c8c"},{"offset":0.8939,"color":"white"},
           {"offset":0.90715,"color":"white"},{"offset":0.90875,"color":"#8c8c8c"},{"offset":0.91035,"color":"white"},
           {"offset":0.9236,"color":"white"},{"offset":0.9252,"color":"#8c8c8c"},{"offset":0.9268,"color":"white"},
           {"offset":0.94005,"color":"white"},{"offset":0.94165,"color":"#8c8c8c"},{"offset":0.94325,"color":"white"},
           {"offset":0.9565,"color":"white"},{"offset":0.9581,"color":"#8c8c8c"},{"offset":0.9597,"color":"white"},
           {"offset":0.97295,"color":"white"},{"offset":0.97455,"color":"#8c8c8c"},{"offset":0.97615,"color":"white"},
           {"offset":0.9894,"color":"white"},{"offset":0.991,"color":"#8c8c8c"},{"offset":0.9926,"color":"white"}]}},
         "encoding": {
           "x": {"datum": 3.981e17, "type": "quantitative", "scale": {"type": "log", "domain": [3.981e17, 1e20], "nice": false}, "axis": null},
           "x2": {"datum": 1e20},
           "y": {"datum": 0, "type": "quantitative", "scale": {"domain": [-2.68, 4.21], "nice": false, "zero": false}, "axis": null},
           "y2": {"datum": -2.68}}},
        {"data": {"name": "zeroLine"}, "mark": {"type": "rule", "color": "black", "strokeWidth": 3, "strokeDash": [3, 18]},
         "encoding": {"y": {"field": "V", "type": "quantitative", "axis": null}}},
        {"data": {"name": "VlnA"}, "transform": [{"filter": "datum.model === 'Sibyll'"}],
         "mark": {"type": "point", "shape": "M-1,0.45L-1,0L1,0L1,0.45", "size": 484, "filled": false, "color": "black", "strokeWidth": 3, "opacity": 1},
         "encoding": {
           "x": {"field": "E", "type": "quantitative", "axis": {"orient": "bottom", "values": [1e18, 1e19], "tickSize": -17, "labelPadding": 34, "labelFontSize": 44, "labelExpr": "datum.value < 5e18 ? '10\u00b9\u2078' : '10\u00b9\u2079'", "title": null}},
           "y": {"field": "sysHi", "type": "quantitative", "axis": {"orient": "left", "values": [-2, -1, 0, 1, 2, 3, 4], "tickSize": -15, "labelPadding": 38, "labelExpr": "datum.value < 0 ? '-' + (-datum.value) : '' + datum.value", "title": "V(ln A)", "titlePadding": 25}}}},
        {"data": {"name": "VlnA"}, "transform": [{"filter": "datum.model === 'Sibyll'"}],
         "mark": {"type": "point", "shape": "M-1,-0.45L-1,0L1,0L1,-0.45", "size": 484, "filled": false, "color": "black", "strokeWidth": 3, "opacity": 1},
         "encoding": {
           "x": {"field": "E", "type": "quantitative", "axis": {"orient": "bottom", "values": [5e17,6e17,7e17,8e17,9e17,2e18,3e18,4e18,5e18,6e18,7e18,8e18,9e18,2e19,3e19,4e19,5e19,6e19,7e19,8e19,9e19], "tickSize": -9, "labels": false, "title": null}},
           "y": {"field": "sysLo", "type": "quantitative", "axis": {"orient": "left", "values": [-2.6,-2.4,-2.2,-1.8,-1.6,-1.4,-1.2,-0.8,-0.6,-0.4,-0.2,0.2,0.4,0.6,0.8,1.2,1.4,1.6,1.8,2.2,2.4,2.6,2.8,3.2,3.4,3.6,3.8], "tickSize": -8, "labels": false, "title": null}}}},
        {"data": {"name": "VlnA"}, "transform": [{"filter": "datum.model === 'Sibyll'"}],
         "mark": {"type": "rule", "color": "black", "strokeWidth": 3.5},
         "encoding": {
           "x": {"field": "E", "type": "quantitative", "axis": {"orient": "top", "values": [1e18, 1e19], "tickSize": -17, "labels": false, "title": null}},
           "y": {"field": "statLo", "type": "quantitative", "axis": {"orient": "right", "values": [-2, -1, 0, 1, 2, 3, 4], "tickSize": -15, "labels": false, "title": null}},
           "y2": {"field": "statHi"}}},
        {"data": {"name": "VlnA"}, "transform": [{"filter": "datum.model === 'Sibyll'"}],
         "mark": {"type": "point", "shape": "circle", "size": 340, "filled": true, "color": "black", "opacity": 1},
         "encoding": {
           "x": {"field": "E", "type": "quantitative", "axis": {"orient": "top", "values": [5e17,6e17,7e17,8e17,9e17,2e18,3e18,4e18,5e18,6e18,7e18,8e18,9e18,2e19,3e19,4e19,5e19,6e19,7e19,8e19,9e19], "tickSize": -9, "labels": false, "title": null}},
           "y": {"field": "mean", "type": "quantitative", "axis": {"orient": "right", "values": [-2.6,-2.4,-2.2,-1.8,-1.6,-1.4,-1.2,-0.8,-0.6,-0.4,-0.2,0.2,0.4,0.6,0.8,1.2,1.4,1.6,1.8,2.2,2.4,2.6,2.8,3.2,3.4,3.6,3.8], "tickSize": -8, "labels": false, "title": null}}}}
      ]
    },
    {
      "width": 733, "height": 570,
      "resolve": {"axis": {"x": "independent", "y": "independent"}},
      "layer": [
        {"data": {"name": "blank"},
         "mark": {"type": "rect", "fill": {"gradient": "linear", "x1": 0, "y1": 0, "x2": 1.1933, "y2": 0.361, "stops": [
           {"offset":0.0024,"color":"white"},{"offset":0.004,"color":"#8c8c8c"},{"offset":0.0056,"color":"white"},
           {"offset":0.01885,"color":"white"},{"offset":0.02045,"color":"#8c8c8c"},{"offset":0.02205,"color":"white"},
           {"offset":0.0353,"color":"white"},{"offset":0.0369,"color":"#8c8c8c"},{"offset":0.0385,"color":"white"},
           {"offset":0.05175,"color":"white"},{"offset":0.05335,"color":"#8c8c8c"},{"offset":0.05495,"color":"white"},
           {"offset":0.0682,"color":"white"},{"offset":0.0698,"color":"#8c8c8c"},{"offset":0.0714,"color":"white"},
           {"offset":0.08465,"color":"white"},{"offset":0.08625,"color":"#8c8c8c"},{"offset":0.08785,"color":"white"},
           {"offset":0.1011,"color":"white"},{"offset":0.1027,"color":"#8c8c8c"},{"offset":0.1043,"color":"white"},
           {"offset":0.11755,"color":"white"},{"offset":0.11915,"color":"#8c8c8c"},{"offset":0.12075,"color":"white"},
           {"offset":0.134,"color":"white"},{"offset":0.1356,"color":"#8c8c8c"},{"offset":0.1372,"color":"white"},
           {"offset":0.15045,"color":"white"},{"offset":0.15205,"color":"#8c8c8c"},{"offset":0.15365,"color":"white"},
           {"offset":0.1669,"color":"white"},{"offset":0.1685,"color":"#8c8c8c"},{"offset":0.1701,"color":"white"},
           {"offset":0.18335,"color":"white"},{"offset":0.18495,"color":"#8c8c8c"},{"offset":0.18655,"color":"white"},
           {"offset":0.1998,"color":"white"},{"offset":0.2014,"color":"#8c8c8c"},{"offset":0.203,"color":"white"},
           {"offset":0.21625,"color":"white"},{"offset":0.21785,"color":"#8c8c8c"},{"offset":0.21945,"color":"white"},
           {"offset":0.2327,"color":"white"},{"offset":0.2343,"color":"#8c8c8c"},{"offset":0.2359,"color":"white"},
           {"offset":0.24915,"color":"white"},{"offset":0.25075,"color":"#8c8c8c"},{"offset":0.25235,"color":"white"},
           {"offset":0.2656,"color":"white"},{"offset":0.2672,"color":"#8c8c8c"},{"offset":0.2688,"color":"white"},
           {"offset":0.28205,"color":"white"},{"offset":0.28365,"color":"#8c8c8c"},{"offset":0.28525,"color":"white"},
           {"offset":0.2985,"color":"white"},{"offset":0.3001,"color":"#8c8c8c"},{"offset":0.3017,"color":"white"},
           {"offset":0.31495,"color":"white"},{"offset":0.31655,"color":"#8c8c8c"},{"offset":0.31815,"color":"white"},
           {"offset":0.3314,"color":"white"},{"offset":0.333,"color":"#8c8c8c"},{"offset":0.3346,"color":"white"},
           {"offset":0.34785,"color":"white"},{"offset":0.34945,"color":"#8c8c8c"},{"offset":0.35105,"color":"white"},
           {"offset":0.3643,"color":"white"},{"offset":0.3659,"color":"#8c8c8c"},{"offset":0.3675,"color":"white"},
           {"offset":0.38075,"color":"white"},{"offset":0.38235,"color":"#8c8c8c"},{"offset":0.38395,"color":"white"},
           {"offset":0.3972,"color":"white"},{"offset":0.3988,"color":"#8c8c8c"},{"offset":0.4004,"color":"white"},
           {"offset":0.41365,"color":"white"},{"offset":0.41525,"color":"#8c8c8c"},{"offset":0.41685,"color":"white"},
           {"offset":0.4301,"color":"white"},{"offset":0.4317,"color":"#8c8c8c"},{"offset":0.4333,"color":"white"},
           {"offset":0.44655,"color":"white"},{"offset":0.44815,"color":"#8c8c8c"},{"offset":0.44975,"color":"white"},
           {"offset":0.463,"color":"white"},{"offset":0.4646,"color":"#8c8c8c"},{"offset":0.4662,"color":"white"},
           {"offset":0.47945,"color":"white"},{"offset":0.48105,"color":"#8c8c8c"},{"offset":0.48265,"color":"white"},
           {"offset":0.4959,"color":"white"},{"offset":0.4975,"color":"#8c8c8c"},{"offset":0.4991,"color":"white"},
           {"offset":0.51235,"color":"white"},{"offset":0.51395,"color":"#8c8c8c"},{"offset":0.51555,"color":"white"},
           {"offset":0.5288,"color":"white"},{"offset":0.5304,"color":"#8c8c8c"},{"offset":0.532,"color":"white"},
           {"offset":0.54525,"color":"white"},{"offset":0.54685,"color":"#8c8c8c"},{"offset":0.54845,"color":"white"},
           {"offset":0.5617,"color":"white"},{"offset":0.5633,"color":"#8c8c8c"},{"offset":0.5649,"color":"white"},
           {"offset":0.57815,"color":"white"},{"offset":0.57975,"color":"#8c8c8c"},{"offset":0.58135,"color":"white"},
           {"offset":0.5946,"color":"white"},{"offset":0.5962,"color":"#8c8c8c"},{"offset":0.5978,"color":"white"},
           {"offset":0.61105,"color":"white"},{"offset":0.61265,"color":"#8c8c8c"},{"offset":0.61425,"color":"white"},
           {"offset":0.6275,"color":"white"},{"offset":0.6291,"color":"#8c8c8c"},{"offset":0.6307,"color":"white"},
           {"offset":0.64395,"color":"white"},{"offset":0.64555,"color":"#8c8c8c"},{"offset":0.64715,"color":"white"},
           {"offset":0.6604,"color":"white"},{"offset":0.662,"color":"#8c8c8c"},{"offset":0.6636,"color":"white"},
           {"offset":0.67685,"color":"white"},{"offset":0.67845,"color":"#8c8c8c"},{"offset":0.68005,"color":"white"},
           {"offset":0.6933,"color":"white"},{"offset":0.6949,"color":"#8c8c8c"},{"offset":0.6965,"color":"white"},
           {"offset":0.70975,"color":"white"},{"offset":0.71135,"color":"#8c8c8c"},{"offset":0.71295,"color":"white"},
           {"offset":0.7262,"color":"white"},{"offset":0.7278,"color":"#8c8c8c"},{"offset":0.7294,"color":"white"},
           {"offset":0.74265,"color":"white"},{"offset":0.74425,"color":"#8c8c8c"},{"offset":0.74585,"color":"white"},
           {"offset":0.7591,"color":"white"},{"offset":0.7607,"color":"#8c8c8c"},{"offset":0.7623,"color":"white"},
           {"offset":0.77555,"color":"white"},{"offset":0.77715,"color":"#8c8c8c"},{"offset":0.77875,"color":"white"},
           {"offset":0.792,"color":"white"},{"offset":0.7936,"color":"#8c8c8c"},{"offset":0.7952,"color":"white"},
           {"offset":0.80845,"color":"white"},{"offset":0.81005,"color":"#8c8c8c"},{"offset":0.81165,"color":"white"},
           {"offset":0.8249,"color":"white"},{"offset":0.8265,"color":"#8c8c8c"},{"offset":0.8281,"color":"white"},
           {"offset":0.84135,"color":"white"},{"offset":0.84295,"color":"#8c8c8c"},{"offset":0.84455,"color":"white"},
           {"offset":0.8578,"color":"white"},{"offset":0.8594,"color":"#8c8c8c"},{"offset":0.861,"color":"white"},
           {"offset":0.87425,"color":"white"},{"offset":0.87585,"color":"#8c8c8c"},{"offset":0.87745,"color":"white"},
           {"offset":0.8907,"color":"white"},{"offset":0.8923,"color":"#8c8c8c"},{"offset":0.8939,"color":"white"},
           {"offset":0.90715,"color":"white"},{"offset":0.90875,"color":"#8c8c8c"},{"offset":0.91035,"color":"white"},
           {"offset":0.9236,"color":"white"},{"offset":0.9252,"color":"#8c8c8c"},{"offset":0.9268,"color":"white"},
           {"offset":0.94005,"color":"white"},{"offset":0.94165,"color":"#8c8c8c"},{"offset":0.94325,"color":"white"},
           {"offset":0.9565,"color":"white"},{"offset":0.9581,"color":"#8c8c8c"},{"offset":0.9597,"color":"white"},
           {"offset":0.97295,"color":"white"},{"offset":0.97455,"color":"#8c8c8c"},{"offset":0.97615,"color":"white"},
           {"offset":0.9894,"color":"white"},{"offset":0.991,"color":"#8c8c8c"},{"offset":0.9926,"color":"white"}]}},
         "encoding": {
           "x": {"datum": 3.981e17, "type": "quantitative", "scale": {"type": "log", "domain": [3.981e17, 1e20], "nice": false}, "axis": null},
           "x2": {"datum": 1e20},
           "y": {"datum": 0, "type": "quantitative", "scale": {"domain": [-2.68, 4.21], "nice": false, "zero": false}, "axis": null},
           "y2": {"datum": -2.68}}},
        {"data": {"name": "zeroLine"}, "mark": {"type": "rule", "color": "black", "strokeWidth": 3, "strokeDash": [3, 18]},
         "encoding": {"y": {"field": "V", "type": "quantitative", "axis": null}}},
        {"data": {"name": "VlnA"}, "transform": [{"filter": "datum.model === 'EPOS'"}],
         "mark": {"type": "point", "shape": "M-1,0.45L-1,0L1,0L1,0.45", "size": 484, "filled": false, "color": "black", "strokeWidth": 3, "opacity": 1},
         "encoding": {
           "x": {"field": "E", "type": "quantitative", "axis": {"orient": "bottom", "values": [1e18, 1e19], "tickSize": -17, "labelPadding": 34, "labelFontSize": 44, "labelExpr": "datum.value < 5e18 ? '10\u00b9\u2078' : '10\u00b9\u2079'", "title": "E [eV]", "titlePadding": 18}},
           "y": {"field": "sysHi", "type": "quantitative", "axis": {"orient": "left", "values": [-2, -1, 0, 1, 2, 3, 4], "tickSize": -15, "labels": false, "title": null}}}},
        {"data": {"name": "VlnA"}, "transform": [{"filter": "datum.model === 'EPOS'"}],
         "mark": {"type": "point", "shape": "M-1,-0.45L-1,0L1,0L1,-0.45", "size": 484, "filled": false, "color": "black", "strokeWidth": 3, "opacity": 1},
         "encoding": {
           "x": {"field": "E", "type": "quantitative", "axis": {"orient": "bottom", "values": [5e17,6e17,7e17,8e17,9e17,2e18,3e18,4e18,5e18,6e18,7e18,8e18,9e18,2e19,3e19,4e19,5e19,6e19,7e19,8e19,9e19], "tickSize": -9, "labels": false, "title": null}},
           "y": {"field": "sysLo", "type": "quantitative", "axis": {"orient": "left", "values": [-2.6,-2.4,-2.2,-1.8,-1.6,-1.4,-1.2,-0.8,-0.6,-0.4,-0.2,0.2,0.4,0.6,0.8,1.2,1.4,1.6,1.8,2.2,2.4,2.6,2.8,3.2,3.4,3.6,3.8], "tickSize": -8, "labels": false, "title": null}}}},
        {"data": {"name": "VlnA"}, "transform": [{"filter": "datum.model === 'EPOS'"}],
         "mark": {"type": "rule", "color": "black", "strokeWidth": 3.5},
         "encoding": {
           "x": {"field": "E", "type": "quantitative", "axis": {"orient": "top", "values": [1e18, 1e19], "tickSize": -17, "labels": false, "title": null}},
           "y": {"field": "statLo", "type": "quantitative", "axis": {"orient": "right", "values": [-2, -1, 0, 1, 2, 3, 4], "tickSize": -15, "labels": false, "title": null}},
           "y2": {"field": "statHi"}}},
        {"data": {"name": "VlnA"}, "transform": [{"filter": "datum.model === 'EPOS'"}],
         "mark": {"type": "point", "shape": "circle", "size": 340, "filled": true, "color": "black", "opacity": 1},
         "encoding": {
           "x": {"field": "E", "type": "quantitative", "axis": {"orient": "top", "values": [5e17,6e17,7e17,8e17,9e17,2e18,3e18,4e18,5e18,6e18,7e18,8e18,9e18,2e19,3e19,4e19,5e19,6e19,7e19,8e19,9e19], "tickSize": -9, "labels": false, "title": null}},
           "y": {"field": "mean", "type": "quantitative", "axis": {"orient": "right", "values": [-2.6,-2.4,-2.2,-1.8,-1.6,-1.4,-1.2,-0.8,-0.6,-0.4,-0.2,0.2,0.4,0.6,0.8,1.2,1.4,1.6,1.8,2.2,2.4,2.6,2.8,3.2,3.4,3.6,3.8], "tickSize": -8, "labels": false, "title": null}}}},
        {"data": {"name": "blank"}, "mark": {"type": "text", "text": "unphysical", "align": "center", "baseline": "alphabetic", "font": "Noto Sans", "fontSize": 48, "color": "black"},
         "encoding": {"x": {"datum": 4.64e18, "type": "quantitative", "axis": null}, "y": {"datum": -1.634, "type": "quantitative", "axis": null}}}
      ]
    },
    {
      "width": 733, "height": 570,
      "resolve": {"axis": {"x": "independent", "y": "independent"}},
      "layer": [
        {"data": {"name": "blank"},
         "mark": {"type": "rect", "fill": {"gradient": "linear", "x1": 0, "y1": 0, "x2": 1.1933, "y2": 0.361, "stops": [
           {"offset":0.0024,"color":"white"},{"offset":0.004,"color":"#8c8c8c"},{"offset":0.0056,"color":"white"},
           {"offset":0.01885,"color":"white"},{"offset":0.02045,"color":"#8c8c8c"},{"offset":0.02205,"color":"white"},
           {"offset":0.0353,"color":"white"},{"offset":0.0369,"color":"#8c8c8c"},{"offset":0.0385,"color":"white"},
           {"offset":0.05175,"color":"white"},{"offset":0.05335,"color":"#8c8c8c"},{"offset":0.05495,"color":"white"},
           {"offset":0.0682,"color":"white"},{"offset":0.0698,"color":"#8c8c8c"},{"offset":0.0714,"color":"white"},
           {"offset":0.08465,"color":"white"},{"offset":0.08625,"color":"#8c8c8c"},{"offset":0.08785,"color":"white"},
           {"offset":0.1011,"color":"white"},{"offset":0.1027,"color":"#8c8c8c"},{"offset":0.1043,"color":"white"},
           {"offset":0.11755,"color":"white"},{"offset":0.11915,"color":"#8c8c8c"},{"offset":0.12075,"color":"white"},
           {"offset":0.134,"color":"white"},{"offset":0.1356,"color":"#8c8c8c"},{"offset":0.1372,"color":"white"},
           {"offset":0.15045,"color":"white"},{"offset":0.15205,"color":"#8c8c8c"},{"offset":0.15365,"color":"white"},
           {"offset":0.1669,"color":"white"},{"offset":0.1685,"color":"#8c8c8c"},{"offset":0.1701,"color":"white"},
           {"offset":0.18335,"color":"white"},{"offset":0.18495,"color":"#8c8c8c"},{"offset":0.18655,"color":"white"},
           {"offset":0.1998,"color":"white"},{"offset":0.2014,"color":"#8c8c8c"},{"offset":0.203,"color":"white"},
           {"offset":0.21625,"color":"white"},{"offset":0.21785,"color":"#8c8c8c"},{"offset":0.21945,"color":"white"},
           {"offset":0.2327,"color":"white"},{"offset":0.2343,"color":"#8c8c8c"},{"offset":0.2359,"color":"white"},
           {"offset":0.24915,"color":"white"},{"offset":0.25075,"color":"#8c8c8c"},{"offset":0.25235,"color":"white"},
           {"offset":0.2656,"color":"white"},{"offset":0.2672,"color":"#8c8c8c"},{"offset":0.2688,"color":"white"},
           {"offset":0.28205,"color":"white"},{"offset":0.28365,"color":"#8c8c8c"},{"offset":0.28525,"color":"white"},
           {"offset":0.2985,"color":"white"},{"offset":0.3001,"color":"#8c8c8c"},{"offset":0.3017,"color":"white"},
           {"offset":0.31495,"color":"white"},{"offset":0.31655,"color":"#8c8c8c"},{"offset":0.31815,"color":"white"},
           {"offset":0.3314,"color":"white"},{"offset":0.333,"color":"#8c8c8c"},{"offset":0.3346,"color":"white"},
           {"offset":0.34785,"color":"white"},{"offset":0.34945,"color":"#8c8c8c"},{"offset":0.35105,"color":"white"},
           {"offset":0.3643,"color":"white"},{"offset":0.3659,"color":"#8c8c8c"},{"offset":0.3675,"color":"white"},
           {"offset":0.38075,"color":"white"},{"offset":0.38235,"color":"#8c8c8c"},{"offset":0.38395,"color":"white"},
           {"offset":0.3972,"color":"white"},{"offset":0.3988,"color":"#8c8c8c"},{"offset":0.4004,"color":"white"},
           {"offset":0.41365,"color":"white"},{"offset":0.41525,"color":"#8c8c8c"},{"offset":0.41685,"color":"white"},
           {"offset":0.4301,"color":"white"},{"offset":0.4317,"color":"#8c8c8c"},{"offset":0.4333,"color":"white"},
           {"offset":0.44655,"color":"white"},{"offset":0.44815,"color":"#8c8c8c"},{"offset":0.44975,"color":"white"},
           {"offset":0.463,"color":"white"},{"offset":0.4646,"color":"#8c8c8c"},{"offset":0.4662,"color":"white"},
           {"offset":0.47945,"color":"white"},{"offset":0.48105,"color":"#8c8c8c"},{"offset":0.48265,"color":"white"},
           {"offset":0.4959,"color":"white"},{"offset":0.4975,"color":"#8c8c8c"},{"offset":0.4991,"color":"white"},
           {"offset":0.51235,"color":"white"},{"offset":0.51395,"color":"#8c8c8c"},{"offset":0.51555,"color":"white"},
           {"offset":0.5288,"color":"white"},{"offset":0.5304,"color":"#8c8c8c"},{"offset":0.532,"color":"white"},
           {"offset":0.54525,"color":"white"},{"offset":0.54685,"color":"#8c8c8c"},{"offset":0.54845,"color":"white"},
           {"offset":0.5617,"color":"white"},{"offset":0.5633,"color":"#8c8c8c"},{"offset":0.5649,"color":"white"},
           {"offset":0.57815,"color":"white"},{"offset":0.57975,"color":"#8c8c8c"},{"offset":0.58135,"color":"white"},
           {"offset":0.5946,"color":"white"},{"offset":0.5962,"color":"#8c8c8c"},{"offset":0.5978,"color":"white"},
           {"offset":0.61105,"color":"white"},{"offset":0.61265,"color":"#8c8c8c"},{"offset":0.61425,"color":"white"},
           {"offset":0.6275,"color":"white"},{"offset":0.6291,"color":"#8c8c8c"},{"offset":0.6307,"color":"white"},
           {"offset":0.64395,"color":"white"},{"offset":0.64555,"color":"#8c8c8c"},{"offset":0.64715,"color":"white"},
           {"offset":0.6604,"color":"white"},{"offset":0.662,"color":"#8c8c8c"},{"offset":0.6636,"color":"white"},
           {"offset":0.67685,"color":"white"},{"offset":0.67845,"color":"#8c8c8c"},{"offset":0.68005,"color":"white"},
           {"offset":0.6933,"color":"white"},{"offset":0.6949,"color":"#8c8c8c"},{"offset":0.6965,"color":"white"},
           {"offset":0.70975,"color":"white"},{"offset":0.71135,"color":"#8c8c8c"},{"offset":0.71295,"color":"white"},
           {"offset":0.7262,"color":"white"},{"offset":0.7278,"color":"#8c8c8c"},{"offset":0.7294,"color":"white"},
           {"offset":0.74265,"color":"white"},{"offset":0.74425,"color":"#8c8c8c"},{"offset":0.74585,"color":"white"},
           {"offset":0.7591,"color":"white"},{"offset":0.7607,"color":"#8c8c8c"},{"offset":0.7623,"color":"white"},
           {"offset":0.77555,"color":"white"},{"offset":0.77715,"color":"#8c8c8c"},{"offset":0.77875,"color":"white"},
           {"offset":0.792,"color":"white"},{"offset":0.7936,"color":"#8c8c8c"},{"offset":0.7952,"color":"white"},
           {"offset":0.80845,"color":"white"},{"offset":0.81005,"color":"#8c8c8c"},{"offset":0.81165,"color":"white"},
           {"offset":0.8249,"color":"white"},{"offset":0.8265,"color":"#8c8c8c"},{"offset":0.8281,"color":"white"},
           {"offset":0.84135,"color":"white"},{"offset":0.84295,"color":"#8c8c8c"},{"offset":0.84455,"color":"white"},
           {"offset":0.8578,"color":"white"},{"offset":0.8594,"color":"#8c8c8c"},{"offset":0.861,"color":"white"},
           {"offset":0.87425,"color":"white"},{"offset":0.87585,"color":"#8c8c8c"},{"offset":0.87745,"color":"white"},
           {"offset":0.8907,"color":"white"},{"offset":0.8923,"color":"#8c8c8c"},{"offset":0.8939,"color":"white"},
           {"offset":0.90715,"color":"white"},{"offset":0.90875,"color":"#8c8c8c"},{"offset":0.91035,"color":"white"},
           {"offset":0.9236,"color":"white"},{"offset":0.9252,"color":"#8c8c8c"},{"offset":0.9268,"color":"white"},
           {"offset":0.94005,"color":"white"},{"offset":0.94165,"color":"#8c8c8c"},{"offset":0.94325,"color":"white"},
           {"offset":0.9565,"color":"white"},{"offset":0.9581,"color":"#8c8c8c"},{"offset":0.9597,"color":"white"},
           {"offset":0.97295,"color":"white"},{"offset":0.97455,"color":"#8c8c8c"},{"offset":0.97615,"color":"white"},
           {"offset":0.9894,"color":"white"},{"offset":0.991,"color":"#8c8c8c"},{"offset":0.9926,"color":"white"}]}},
         "encoding": {
           "x": {"datum": 3.981e17, "type": "quantitative", "scale": {"type": "log", "domain": [3.981e17, 1e20], "nice": false}, "axis": null},
           "x2": {"datum": 1e20},
           "y": {"datum": 0, "type": "quantitative", "scale": {"domain": [-2.68, 4.21], "nice": false, "zero": false}, "axis": null},
           "y2": {"datum": -2.68}}},
        {"data": {"name": "zeroLine"}, "mark": {"type": "rule", "color": "black", "strokeWidth": 3, "strokeDash": [3, 18]},
         "encoding": {"y": {"field": "V", "type": "quantitative", "axis": null}}},
        {"data": {"name": "VlnA"}, "transform": [{"filter": "datum.model === 'QGSJet'"}],
         "mark": {"type": "point", "shape": "M-1,0.45L-1,0L1,0L1,0.45", "size": 484, "filled": false, "color": "black", "strokeWidth": 3, "opacity": 1},
         "encoding": {
           "x": {"field": "E", "type": "quantitative", "axis": {"orient": "bottom", "values": [1e18, 1e19], "tickSize": -17, "labelPadding": 34, "labelFontSize": 44, "labelExpr": "datum.value < 5e18 ? '10\u00b9\u2078' : '10\u00b9\u2079'", "title": null}},
           "y": {"field": "sysHi", "type": "quantitative", "axis": {"orient": "left", "values": [-2, -1, 0, 1, 2, 3, 4], "tickSize": -15, "labels": false, "title": null}}}},
        {"data": {"name": "VlnA"}, "transform": [{"filter": "datum.model === 'QGSJet'"}],
         "mark": {"type": "point", "shape": "M-1,-0.45L-1,0L1,0L1,-0.45", "size": 484, "filled": false, "color": "black", "strokeWidth": 3, "opacity": 1},
         "encoding": {
           "x": {"field": "E", "type": "quantitative", "axis": {"orient": "bottom", "values": [5e17,6e17,7e17,8e17,9e17,2e18,3e18,4e18,5e18,6e18,7e18,8e18,9e18,2e19,3e19,4e19,5e19,6e19,7e19,8e19,9e19], "tickSize": -9, "labels": false, "title": null}},
           "y": {"field": "sysLo", "type": "quantitative", "axis": {"orient": "left", "values": [-2.6,-2.4,-2.2,-1.8,-1.6,-1.4,-1.2,-0.8,-0.6,-0.4,-0.2,0.2,0.4,0.6,0.8,1.2,1.4,1.6,1.8,2.2,2.4,2.6,2.8,3.2,3.4,3.6,3.8], "tickSize": -8, "labels": false, "title": null}}}},
        {"data": {"name": "VlnA"}, "transform": [{"filter": "datum.model === 'QGSJet'"}],
         "mark": {"type": "rule", "color": "black", "strokeWidth": 3.5},
         "encoding": {
           "x": {"field": "E", "type": "quantitative", "axis": {"orient": "top", "values": [1e18, 1e19], "tickSize": -17, "labels": false, "title": null}},
           "y": {"field": "statLo", "type": "quantitative", "axis": {"orient": "right", "values": [-2, -1, 0, 1, 2, 3, 4], "tickSize": -15, "labels": false, "title": null}},
           "y2": {"field": "statHi"}}},
        {"data": {"name": "VlnA"}, "transform": [{"filter": "datum.model === 'QGSJet'"}],
         "mark": {"type": "point", "shape": "circle", "size": 340, "filled": true, "color": "black", "opacity": 1},
         "encoding": {
           "x": {"field": "E", "type": "quantitative", "axis": {"orient": "top", "values": [5e17,6e17,7e17,8e17,9e17,2e18,3e18,4e18,5e18,6e18,7e18,8e18,9e18,2e19,3e19,4e19,5e19,6e19,7e19,8e19,9e19], "tickSize": -9, "labels": false, "title": null}},
           "y": {"field": "mean", "type": "quantitative", "axis": {"orient": "right", "values": [-2.6,-2.4,-2.2,-1.8,-1.6,-1.4,-1.2,-0.8,-0.6,-0.4,-0.2,0.2,0.4,0.6,0.8,1.2,1.4,1.6,1.8,2.2,2.4,2.6,2.8,3.2,3.4,3.6,3.8], "tickSize": -8, "labels": false, "title": null}}}}
      ]
    }
  ]
}
